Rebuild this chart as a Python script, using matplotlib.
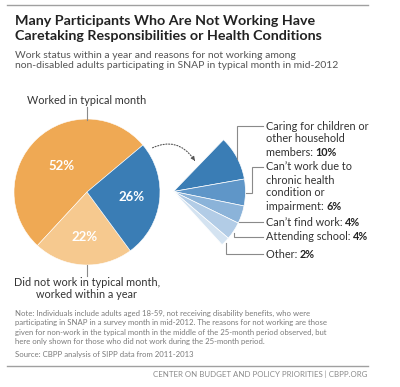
import matplotlib
matplotlib.use("Agg")
import matplotlib.pyplot as plt
from matplotlib.patches import FancyArrowPatch
import numpy as np

# ---- data ----
main_labels = ["Worked in typical month", "Did not work in typical month, worked within a year",
               "Did not work within a year"]
main_values = [52, 22, 26]
main_colors = ["#EFA954", "#F6C98F", "#3A7DB5"]

reason_labels = ["Caring for children or other household members",
                 "Can\u2019t work due to chronic health condition or impairment",
                 "Can\u2019t find work", "Attending school", "Other"]
reason_values = [10, 6, 4, 4, 2]
reason_colors = ["#3A7DB5", "#5F96C8", "#8BB3D9", "#B2CCE6", "#D4E3F1"]

W, H = 400, 387
fig = plt.figure(figsize=(4, 3.87), dpi=100)
ax = fig.add_axes([0, 0, 1, 1])
FONT = "Lato"
GRAY = "#8a8a8a"
TXT = "#333333"

def Y(y):
    return H - y

# main pie
wedges, _ = ax.pie(main_values, colors=main_colors, startangle=40, counterclock=True,
                   center=(87, Y(192)), radius=73,
                   wedgeprops=dict(linewidth=0.4, edgecolor="white"))
pct_dist = [0.50, 0.62, 0.62]
for w, v, d in zip(wedges, main_values, pct_dist):
    ang = np.deg2rad((w.theta1 + w.theta2) / 2)
    ax.text(87 + d * 73 * np.cos(ang), Y(192) + d * 73 * np.sin(ang), f"{v}%",
            ha="center", va="center", color="white", fontsize=9.5, fontweight="bold",
            family=FONT)

# fan of reasons
fan, _ = ax.pie([v / 100 for v in reason_values], colors=reason_colors, startangle=46,
                counterclock=False, normalize=False, center=(173.5, Y(191.5)), radius=72,
                wedgeprops=dict(linewidth=0.5, edgecolor="white"))

ax.set_xlim(0, W)
ax.set_ylim(0, H)
ax.set_aspect("auto")
ax.set_axis_off()

# rules
ax.plot([7, 368], [Y(5), Y(5)], color="#a0a0a0", lw=1.0)
ax.plot([7, 368], [Y(366), Y(366)], color="#a0a0a0", lw=1.0)

# title & subtitle
ax.text(15, Y(25), "Many Participants Who Are Not Working Have", fontsize=10.3,
        fontweight="bold", family=FONT, color="#222222", va="baseline")
ax.text(15, Y(39.5), "Caretaking Responsibilities or Health Conditions", fontsize=10.3,
        fontweight="bold", family=FONT, color="#222222", va="baseline")
ax.text(15, Y(57.5), "Work status within a year and reasons for not working among",
        fontsize=7.45, family=FONT, color="#555555", va="baseline")
ax.text(15, Y(68.5), "non-disabled adults participating in SNAP in typical month in mid-2012",
        fontsize=7.45, family=FONT, color="#555555", va="baseline")

# main pie labels
lab_fs = 7.8
ax.text(87, Y(100), main_labels[0], ha="center", va="center", fontsize=lab_fs,
        family=FONT, color=TXT)
ax.plot([87, 87], [Y(107), Y(120)], color=GRAY, lw=0.8)
ax.text(87, Y(283), "Did not work in typical month,", ha="center", va="center",
        fontsize=lab_fs, family=FONT, color=TXT)
ax.text(87, Y(295), "worked within a year", ha="center", va="center",
        fontsize=lab_fs, family=FONT, color=TXT)
ax.plot([87, 87], [Y(265), Y(276)], color=GRAY, lw=0.8)

# reason labels
tx = 266
def label_line(y, s, bold=None):
    t = ax.text(tx, Y(y), s, ha="left", va="center", fontsize=lab_fs, family=FONT, color=TXT)
    if bold is not None:
        ax.annotate(bold, xy=(1, 0.5), xycoords=t, ha="left", va="center",
                    fontsize=lab_fs, family=FONT, fontweight="bold", color="#222222")

label_line(126, "Caring for children or")
label_line(139, "other household")
label_line(152, "members: ", f"{reason_values[0]}%")
label_line(167, "Can\u2019t work due to")
label_line(180, "chronic health")
label_line(193, "condition or")
label_line(206, "impairment: ", f"{reason_values[1]}%")
label_line(222, "Can\u2019t find work: ", f"{reason_values[2]}%")
label_line(237, "Attending school: ", f"{reason_values[3]}%")
label_line(254, "Other: ", f"{reason_values[4]}%")

def leader(pts):
    xs = [p[0] for p in pts]
    ys = [Y(p[1]) for p in pts]
    ax.plot(xs, ys, color=GRAY, lw=0.8, solid_joinstyle="miter")

leader([(263, 126), (237, 126), (237, 159)])
leader([(263, 167), (252, 167), (252, 193), (246, 193)])
leader([(263, 222), (239, 222)])
leader([(263, 237), (234, 237), (234, 233)])
leader([(263, 254), (226, 254), (226, 243)])

# dotted arrow
p1 = (150, Y(149))
p2 = (195, Y(161))
arc = FancyArrowPatch(p1, p2, connectionstyle="arc3,rad=-0.45", arrowstyle="-",
                      linestyle=(0, (1, 1.5)), color="#555555", lw=0.8)
ax.add_patch(arc)
head = FancyArrowPatch((193, Y(158)), (196.5, Y(163)), arrowstyle="-|>",
                       mutation_scale=6, color="#555555", lw=0.6)
ax.add_patch(head)

# note
note = ["Note: Individuals include adults aged 18-59, not receiving disability benefits, who were",
        "participating in SNAP in a survey month in mid-2012. The reasons for not working are those",
        "given for non-work in the typical month in the middle of the 25-month period observed, but",
        "here only shown for those who did not work during the 25-month period."]
for i, s in enumerate(note):
    ax.text(15, Y(313 + 9.6 * i), s, fontsize=5.6, family=FONT, color="#7a7a7a", va="center")
ax.text(15, Y(354), "Source: CBPP analysis of SIPP data from 2011-2013", fontsize=5.6,
        family=FONT, color="#7a7a7a", va="center")
ax.text(367, Y(374), "CENTER ON BUDGET AND POLICY PRIORITIES | CBPP.ORG", fontsize=5.7,
        family=FONT, color="#8a8a8a", va="center", ha="right")

fig.savefig("out.png", dpi=100)
